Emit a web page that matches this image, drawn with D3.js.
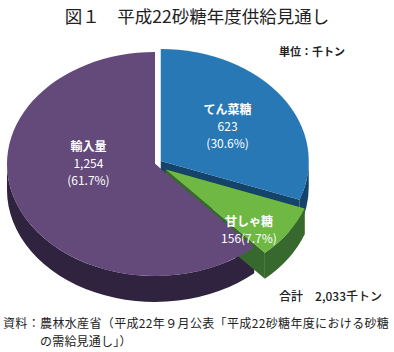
<!DOCTYPE html>
<html>
<head>
<meta charset="utf-8">
<script src="https://cdn.jsdelivr.net/npm/d3@7"></script>
<style>
  body { margin: 0; background: #fff; }
  svg { display: block; font-family: "Noto Sans CJK JP", "Noto Sans", sans-serif; }
</style>
</head>
<body>
<div id="wrapper"></div>
<script>
// data (千トン)
const names = ["てん菜糖", "甘しゃ糖", "輸入量"]
const values = [623, 156, 1254]
const unitLabel = "単位：千トン"
const titleText = "図１　平成22砂糖年度供給見通し"
const sourceLines = [
  "資料：農林水産省（平成22年９月公表「平成22砂糖年度における砂糖",
  "の需給見通し」）"
]

const topColor = d3.scaleOrdinal().domain(names).range(["#2878b6", "#70b844", "#644a7a"])
const sideColor = d3.scaleOrdinal().domain(names).range(["#15446a", "#37692e", "#2f2340"])

// how far each slice is pulled out of the pie, and where its label sits
const explode = { "てん菜糖": 7, "甘しゃ糖": 13, "輸入量": 0 }
const labelSpot = { "てん菜糖": [0, 0.55], "甘しゃ糖": [0.17, 0.78], "輸入量": [0.38, 0.45] }

const width = 394
const height = 352
const pieBox = { cx: 155, cy: 164, rx: 148, ry: 112, depth: 26 }

const wrapper = d3.select("#wrapper")
  .append("svg")
    .attr("width", width)
    .attr("height", height)

const rows = names.map((name, i) => ({ name, value: values[i] }))
const total = d3.sum(values)

const pie = d3.pie()
  .sort(null)
  .value(d => d.value)
  .startAngle(0)
  .endAngle(2 * Math.PI)

const arcs = pie(rows)

// point on the tilted rim, angle clockwise from 12 o'clock
const rim = (c, a, drop = 0) => [c.x + pieBox.rx * Math.sin(a), c.y - pieBox.ry * Math.cos(a) + drop]

arcs.forEach(d => {
  const mid = (d.startAngle + d.endAngle) / 2
  const e = explode[d.data.name]
  d.c = {
    x: pieBox.cx + e * Math.sin(mid),
    y: pieBox.cy - e * Math.cos(mid) * (pieBox.ry / pieBox.rx)
  }
})

const h = pieBox.depth
const arcCmd = (p, large, sweep) =>
  `A${pieBox.rx},${pieBox.ry} 0 ${large} ${sweep} ${p[0]},${p[1]}`

const topPath = d => {
  const p0 = rim(d.c, d.startAngle)
  const p1 = rim(d.c, d.endAngle)
  const large = d.endAngle - d.startAngle > Math.PI ? 1 : 0
  return `M${d.c.x},${d.c.y}L${p0[0]},${p0[1]}${arcCmd(p1, large, 1)}Z`
}

const wallPath = d => {
  const t0 = Math.max(d.startAngle, Math.PI / 2)
  const t1 = Math.min(d.endAngle, 3 * Math.PI / 2)
  if (t1 <= t0) return null
  const a = rim(d.c, t0), b = rim(d.c, t1)
  const b2 = rim(d.c, t1, h), a2 = rim(d.c, t0, h)
  const large = t1 - t0 > Math.PI ? 1 : 0
  return `M${a[0]},${a[1]}${arcCmd(b, large, 1)}L${b2[0]},${b2[1]}${arcCmd(a2, large, 0)}Z`
}

const facePath = (d, ang) => {
  const p = rim(d.c, ang)
  return `M${d.c.x},${d.c.y}L${p[0]},${p[1]}L${p[0]},${p[1] + h}L${d.c.x},${d.c.y + h}Z`
}

// sides first (back to front), then the top faces
const sideOrder = ["てん菜糖", "輸入量", "甘しゃ糖"]
const sides = wrapper.append("g")
sideOrder.forEach(name => {
  const d = arcs.find(a => a.data.name === name)
  sides.append("path").attr("d", facePath(d, d.startAngle)).attr("fill", sideColor(name))
  sides.append("path").attr("d", facePath(d, d.endAngle)).attr("fill", sideColor(name))
  const w = wallPath(d)
  if (w) sides.append("path").attr("d", w).attr("fill", sideColor(name))
})

const topOrder = ["てん菜糖", "甘しゃ糖", "輸入量"]
wrapper.append("g")
  .selectAll("path")
  .data(topOrder.map(n => arcs.find(a => a.data.name === n)))
  .join("path")
    .attr("d", topPath)
    .attr("fill", d => topColor(d.data.name))

// slice labels
const pct = d3.format(".1%")
const num = d3.format(",")
const labelLines = d => {
  const v = num(d.data.value)
  const p = `(${pct(d.data.value / total)})`
  return d.data.name === "甘しゃ糖" ? [d.data.name, v + p] : [d.data.name, v, p]
}

const labels = wrapper.append("g")
  .selectAll("text")
  .data(arcs)
  .join("text")
    .attr("text-anchor", "middle")
    .attr("fill", "#fff")
    .style("font-size", "12px")
    .attr("transform", d => {
      const [da, r] = labelSpot[d.data.name]
      const mid = (d.startAngle + d.endAngle) / 2 + da
      const n = labelLines(d).length
      const x = d.c.x + r * pieBox.rx * Math.sin(mid)
      const y = d.c.y - r * pieBox.ry * Math.cos(mid) - (n - 1) * 8 + 4
      return `translate(${x},${y})`
    })

labels.selectAll("tspan")
  .data(d => labelLines(d))
  .join("tspan")
    .attr("x", 0)
    .attr("dy", (t, i) => i === 0 ? 0 : 17)
    .style("font-weight", (t, i) => i === 0 ? 700 : 400)
    .text(t => t)

// title, unit, total, source
wrapper.append("text")
  .attr("x", width / 2)
  .attr("y", 23)
  .attr("text-anchor", "middle")
  .attr("fill", "#222")
  .style("font-size", "17.5px")
  .style("font-weight", 400)
  .text(titleText)

wrapper.append("text")
  .attr("x", 345)
  .attr("y", 56)
  .attr("text-anchor", "end")
  .attr("fill", "#222")
  .style("font-size", "11px")
  .style("font-weight", 700)
  .text(unitLabel)

wrapper.append("text")
  .attr("x", 382)
  .attr("y", 301)
  .attr("text-anchor", "end")
  .attr("fill", "#222")
  .style("font-size", "12px")
  .style("font-weight", 500)
  .text(`合計　${num(total)}千トン`)

wrapper.append("g")
  .selectAll("text")
  .data(sourceLines)
  .join("text")
    .attr("x", (t, i) => i === 0 ? 3 : 40)
    .attr("y", (t, i) => i === 0 ? 328 : 346)
    .attr("fill", "#222")
    .style("font-size", "12px")
    .style("letter-spacing", (t, i) => i === 0 ? "0.35px" : "0.2px")
    .text(t => t)
</script>
</body>
</html>
